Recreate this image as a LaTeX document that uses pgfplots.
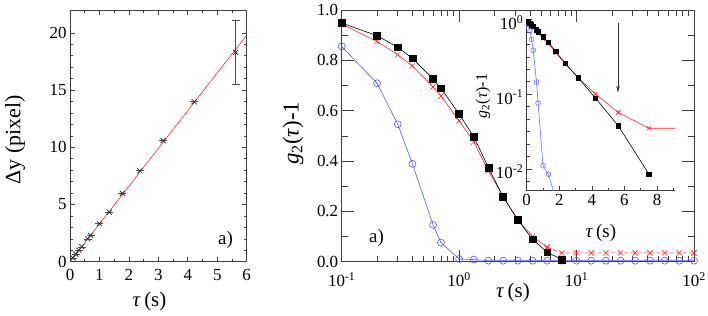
\documentclass[border=0pt]{standalone}
\usepackage{fontspec}
\setmainfont{Liberation Serif}
\usepackage{pgfplots}
\usepackage{pgfplotstable}
\pgfplotsset{compat=1.18}
\usetikzlibrary{arrows.meta}
\definecolor{myred}{RGB}{255,40,40}
\definecolor{myblue}{RGB}{85,85,255}

\pgfplotstableread{
x y e
0.1 0.33 0
0.2 0.66 0
0.3 1.0 0
0.4 1.3 0
0.6 2.0 0
0.7 2.3 0
1.0 3.33 0
1.334 4.33 0
1.778 5.97 0
2.371 7.95 0
3.162 10.58 0
4.217 13.98 0
5.623 18.3 2.83
}\dy

\pgfplotstableread{
x y
0.1 0.948
0.2 0.898
0.3 0.852
0.4 0.808
0.6 0.726
0.7 0.689
1.0 0.587
1.334 0.496
1.778 0.373
2.371 0.258
3.162 0.166
4.217 0.089
5.623 0.0376
7.499 0.0085
}\blk

\pgfplotstableread{
x y
0.1 0.944
0.2 0.875
0.3 0.822
0.4 0.778
0.6 0.695
0.7 0.658
1.0 0.560
1.334 0.476
1.778 0.360
2.371 0.258
3.162 0.166
4.217 0.101
5.623 0.057
}\reda

\pgfplotstableread{
x y
5.623 0.057
7.499 0.035
10 0.035
13.34 0.035
17.78 0.035
23.71 0.035
31.62 0.035
42.17 0.035
56.23 0.035
74.99 0.035
100 0.035
}\redb

\pgfplotstableread{
x y
0.1 0.855
0.2 0.709
0.3 0.546
0.4 0.389
0.6 0.146
0.7 0.076
1.0 0.011
1.334 0.0085
1.778 0.004
2.371 0.004
3.162 0.004
4.217 0.004
5.623 0.004
7.499 0.004
10 0.004
13.34 0.004
17.78 0.004
23.71 0.004
31.62 0.004
42.17 0.004
56.23 0.004
74.99 0.004
100 0.004
}\blu

\pgfplotsset{
  every axis/.append style={
    scale only axis, anchor=south west,
    font=\fontsize{17}{20}\selectfont,
    tick align=inside,
    clip mode=individual,
    axis line style={black!75, line width=0.8bp},
    every tick/.style={black!75, line width=0.6bp},
    /pgf/number format/assume math mode=true,
  },
}

\begin{document}
\begin{tikzpicture}
\path[use as bounding box] (0,0) rectangle (708bp,316bp);

% ---------- left panel ----------
\begin{axis}[
  at={(70bp,54.3bp)}, width=176.7bp, height=251.7bp,
  xmin=0, xmax=6, ymin=0, ymax=22,
  xtick={0,1,...,6}, ytick={0,5,10,15,20},
  minor x tick num=1, minor y tick num=4,
  major tick length=5bp, minor tick length=3bp,
  xticklabel style={yshift=-4bp},
]
\addplot[myred, line width=0.6bp] coordinates {(0,0) (6,19.8)};
\addplot[only marks, mark=x, mark size=3.6bp, black!80, mark options={line width=0.8bp},
  error bars/.cd, y dir=both, y explicit,
  error bar style={black!70, line width=0.6bp},
  error mark options={black!70, mark size=4bp, rotate=90, line width=0.6bp}]
  table[x=x, y=y, y error=e] {\dy};
\node[font=\fontsize{19}{22}\selectfont] at (axis description cs:0.88,0.088) {a)};
\node[font=\fontsize{21}{24}\selectfont] at (axis description cs:0.45,-0.159) {\textit{τ}\,(s)};
\node[font=\fontsize{22}{25}\selectfont, rotate=90] at (axis description cs:-0.311,0.484) {Δy (pixel)};
\end{axis}

% ---------- main panel ----------
\begin{axis}[
  xmode=log,
  at={(341.7bp,54.3bp)}, width=352.3bp, height=251.7bp,
  xmin=0.1, xmax=100, ymin=0, ymax=1,
  xtick={0.1,1,10,100},
  xticklabels={10\textsuperscript{-1},10\textsuperscript{0},10\textsuperscript{1},10\textsuperscript{2}},
  xticklabel style={yshift=-7bp},
  minor xtick={0.2,0.3,0.4,0.5,0.6,0.7,0.8,0.9,2,3,4,5,6,7,8,9,20,30,40,50,60,70,80,90},
  ytick={0,0.2,0.4,0.6,0.8,1.0}, minor ytick={0.1,0.3,0.5,0.7,0.9},
  yticklabel style={/pgf/number format/.cd, fixed, fixed zerofill, precision=1},
  major tick length=12bp, minor tick length=6bp,
]
\addplot[myblue, line width=0.6bp, mark=o, mark size=3.5bp] table {\blu};
\addplot[myred, line width=0.6bp, mark=x, mark size=3.8bp] table {\reda};
\addplot[myred, line width=0.6bp, dash pattern=on 4bp off 2.5bp, mark=x, mark size=3.8bp, mark options={solid}] table {\redb};
\addplot[black, line width=0.6bp, mark=square*, mark size=3.4bp] table {\blk};
\node[font=\fontsize{19}{22}\selectfont] at (axis description cs:0.099,0.094) {a)};
\node[font=\fontsize{21}{24}\selectfont] at (axis description cs:0.486,-0.124) {\textit{τ}\,(s)};
\node[font=\fontsize{23}{26}\selectfont, rotate=90] at (axis description cs:-0.138,0.51) {\textit{g}\textsubscript{2}(\textit{τ})-1};
\end{axis}

% ---------- inset ----------
\begin{axis}[
  ymode=log,
  at={(526.7bp,125.3bp)}, width=148.3bp, height=171.1bp,
  xmin=0, xmax=9.1, ymin=0.0051, ymax=1,
  axis x line*=bottom, axis y line*=left, axis line style={-},
  xtick={0,2,4,6,8}, minor xtick={1,3,5,7,9},
  ytick={0.01,0.1,1},
  yticklabels={10\textsuperscript{-2},10\textsuperscript{-1},10\textsuperscript{0}},
  yticklabel style={yshift=-3bp},
  minor ytick={0.00681,0.01468,0.02154,0.03162,0.04642,0.06813,0.1468,0.2154,0.3162,0.4642,0.6813},
  major tick length=5bp, minor tick length=3bp,
]
\addplot[myblue, line width=0.5bp, mark=o, mark size=2.4bp] table {\blu};
\addplot[myred, line width=0.6bp, mark=x, mark size=2.8bp] table {\reda};
\addplot[myred, line width=0.6bp, mark=x, mark size=2.8bp] table {\redb};
\addplot[black, line width=0.6bp, mark=square*, mark size=2.2bp] table {\blk};
\draw[black!80, line width=0.6bp, -{Stealth[length=7bp, width=3.5bp]}] (axis cs:5.6,0.9) -- (axis cs:5.6,0.105);
\node[font=\fontsize{19}{22}\selectfont] at (axis description cs:0.50,-0.247) {\textit{τ}\,(s)};
\node[font=\fontsize{16}{19}\selectfont, rotate=90] at (axis description cs:-0.295,0.553) {\textit{g}\textsubscript{2}(\textit{τ})-1};
\end{axis}
\end{tikzpicture}
\end{document}
